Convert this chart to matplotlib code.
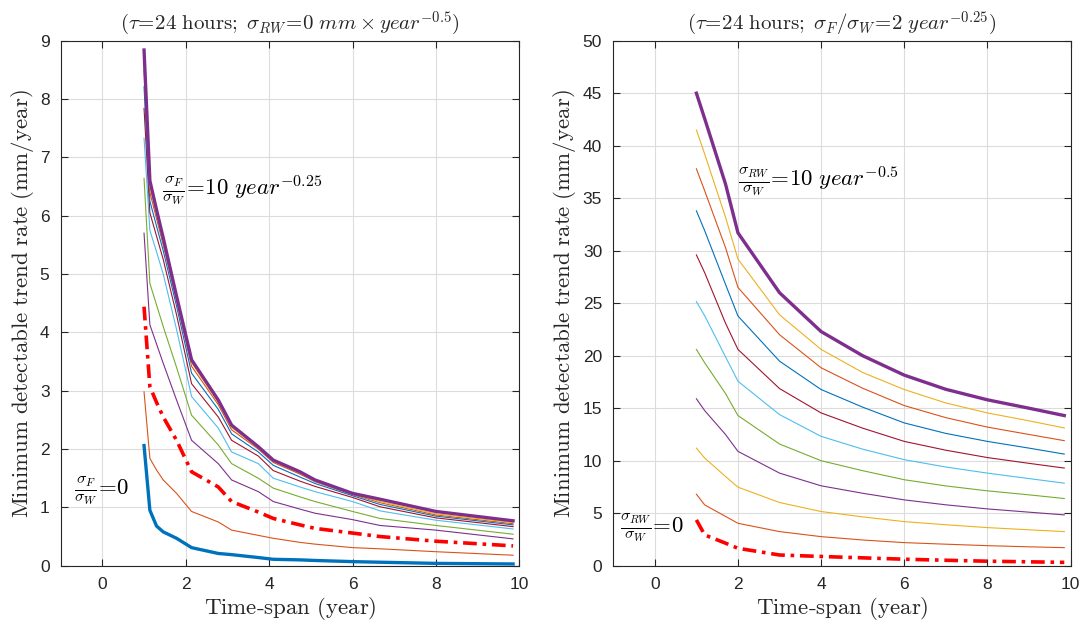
import matplotlib
matplotlib.use("Agg")
import matplotlib.pyplot as plt

plt.rcParams['mathtext.fontset'] = 'cm'
plt.rcParams['font.family'] = 'Liberation Sans'

# left panel: sigma_F/sigma_W = 0..10, sigma_RW = 0
x_left = [1, 1.14, 1.3, 1.46, 1.78, 2.14, 2.78, 3.1, 3.74, 4.1, 4.74, 5.1, 6, 6.66, 8, 9.85]
left_curves = [
    [2.06, 0.95, 0.68, 0.58, 0.47, 0.31, 0.21, 0.19, 0.14, 0.11, 0.10, 0.09, 0.07, 0.06, 0.04, 0.03],
    [2.98, 1.84, 1.64, 1.47, 1.24, 0.93, 0.75, 0.61, 0.52, 0.47, 0.40, 0.37, 0.31, 0.29, 0.24, 0.18],
    [4.44, 3.07, 2.80, 2.55, 2.15, 1.61, 1.35, 1.10, 0.92, 0.81, 0.70, 0.64, 0.56, 0.50, 0.42, 0.34],
    [5.70, 4.13, 3.80, 3.47, 2.84, 2.15, 1.75, 1.47, 1.27, 1.10, 0.97, 0.90, 0.79, 0.69, 0.61, 0.46],
    [6.64, 4.84, 4.47, 4.10, 3.40, 2.58, 2.07, 1.75, 1.50, 1.33, 1.18, 1.10, 0.93, 0.81, 0.69, 0.54],
    [7.33, 5.75, 5.38, 5.00, 4.05, 2.90, 2.36, 1.95, 1.75, 1.50, 1.35, 1.27, 1.10, 0.94, 0.78, 0.63],
    [7.84, 6.05, 5.65, 5.25, 4.30, 3.12, 2.55, 2.15, 1.88, 1.63, 1.45, 1.36, 1.17, 1.01, 0.82, 0.67],
    [8.21, 6.25, 5.82, 5.40, 4.45, 3.30, 2.68, 2.26, 1.95, 1.72, 1.52, 1.41, 1.20, 1.05, 0.85, 0.70],
    [8.50, 6.40, 5.95, 5.50, 4.55, 3.42, 2.76, 2.33, 2.00, 1.77, 1.57, 1.44, 1.22, 1.08, 0.87, 0.72],
    [8.70, 6.50, 6.02, 5.55, 4.60, 3.48, 2.80, 2.37, 2.02, 1.79, 1.59, 1.45, 1.23, 1.10, 0.89, 0.74],
    [8.84, 6.60, 6.10, 5.62, 4.62, 3.53, 2.84, 2.41, 2.04, 1.81, 1.61, 1.47, 1.24, 1.14, 0.93, 0.77],
]

# right panel: sigma_RW/sigma_W = 0..10, sigma_F/sigma_W = 2
x_right = [1, 1.2, 1.7, 2, 3, 4, 5, 6, 7, 8, 9, 9.85]
right_curves = [
    [4.36, 2.93, 2.15, 1.66, 1.02, 0.88, 0.75, 0.62, 0.52, 0.43, 0.37, 0.32],
    [6.81, 5.79, 4.70, 4.04, 3.25, 2.77, 2.45, 2.20, 2.05, 1.91, 1.80, 1.72],
    [11.2, 10.25, 8.5, 7.48, 6.02, 5.16, 4.65, 4.20, 3.90, 3.63, 3.42, 3.25],
    [15.9, 14.77, 12.5, 10.89, 8.82, 7.61, 6.90, 6.27, 5.80, 5.41, 5.10, 4.84],
    [20.6, 19.32, 16.4, 14.3, 11.59, 10.0, 9.05, 8.19, 7.60, 7.13, 6.75, 6.40],
    [25.15, 23.8, 19.9, 17.57, 14.39, 12.32, 11.1, 10.1, 9.40, 8.82, 8.30, 7.86],
    [29.6, 27.9, 23.1, 20.6, 16.87, 14.55, 13.1, 11.84, 11.0, 10.3, 9.75, 9.30],
    [33.8, 31.9, 26.8, 23.78, 19.48, 16.78, 15.1, 13.6, 12.6, 11.84, 11.2, 10.63],
    [37.8, 35.7, 30.3, 26.5, 22.0, 18.85, 16.9, 15.25, 14.1, 13.2, 12.5, 11.91],
    [41.5, 39.2, 33.2, 29.2, 23.9, 20.6, 18.4, 16.78, 15.5, 14.55, 13.8, 13.12],
    [45.0, 42.57, 36.36, 31.7, 26.0, 22.3, 20.0, 18.15, 16.8, 15.8, 15.0, 14.3],
]

matlab_colors = ['#0072BD', '#D95319', '#EDB120', '#7E2F8E', '#77AC30', '#4DBEEE', '#A2142F']
dashdot = (0, (3.8, 1.6, 1.0, 1.6))


def style_axes(ax, ylim, yticks):
    ax.set_xlim(-1, 10)
    ax.set_ylim(*ylim)
    ax.set_xticks([0, 2, 4, 6, 8, 10])
    ax.set_yticks(yticks)
    ax.grid(True, color='#dcdcdc', linewidth=0.8)
    ax.set_axisbelow(True)
    ax.tick_params(direction='in', top=True, right=True, length=5, width=0.8,
                   labelsize=12.5, colors='#262626', pad=8)
    for s in ax.spines.values():
        s.set_color('#262626')
        s.set_linewidth(0.8)
    ax.set_xlabel(r'$\mathrm{Time\text{-}span\ (year)}$', fontsize=16.5, color='#262626', labelpad=2)
    ax.set_ylabel(r'$\mathrm{Minimum\ detectable\ trend\ rate\ (mm/year)}$', fontsize=16.5,
                  color='#262626', labelpad=3)


fig = plt.figure(figsize=(10.81, 6.26), dpi=100)
ax1 = fig.add_axes([0.0561, 0.0963, 0.4243, 0.8387])
ax2 = fig.add_axes([0.5673, 0.0963, 0.4230, 0.8387])

for i, y in enumerate(left_curves):
    if i == 0:
        ax1.plot(x_left, y, color=matlab_colors[0], lw=2.4)
    elif i == 2:
        ax1.plot(x_left, y, color='red', lw=2.6, linestyle=dashdot)
    elif i == 10:
        ax1.plot(x_left, y, color=matlab_colors[3], lw=2.4)
    else:
        ax1.plot(x_left, y, color=matlab_colors[i % 7], lw=0.8)

for i, y in enumerate(right_curves):
    if i == 0:
        ax2.plot(x_right, y, color='red', lw=2.6, linestyle=dashdot)
    elif i == 10:
        ax2.plot(x_right, y, color=matlab_colors[3], lw=2.4)
    else:
        ax2.plot(x_right, y, color=matlab_colors[i % 7], lw=0.8)

style_axes(ax1, (0, 9), range(0, 10))
style_axes(ax2, (0, 50), range(0, 51, 5))

ax1.set_title(r'$(\tau\!=\!24\ \mathrm{hours;}\ \sigma_{RW}\!=\!0\ mm \times year^{-0.5})$',
              fontsize=15, color='#262626', pad=8)
ax2.set_title(r'$(\tau\!=\!24\ \mathrm{hours;}\ \sigma_F/\sigma_W\!=\!2\ year^{-0.25})$',
              fontsize=15, color='#262626', pad=8)

ax1.text(1.42, 6.45, r'$\frac{\sigma_F}{\sigma_W}\!=\!10\ year^{-0.25}$', fontsize=16.5, va='center')
ax1.text(-0.68, 1.3, r'$\frac{\sigma_F}{\sigma_W}\!=\!0$', fontsize=16.5, va='center')
ax2.text(1.99, 36.7, r'$\frac{\sigma_{RW}}{\sigma_W}\!=\!10\ year^{-0.5}$', fontsize=16.5, va='center')
ax2.text(-0.84, 3.56, r'$\frac{\sigma_{RW}}{\sigma_W}\!=\!0$', fontsize=16.5, va='center')

fig.savefig('out.png', dpi=100)
